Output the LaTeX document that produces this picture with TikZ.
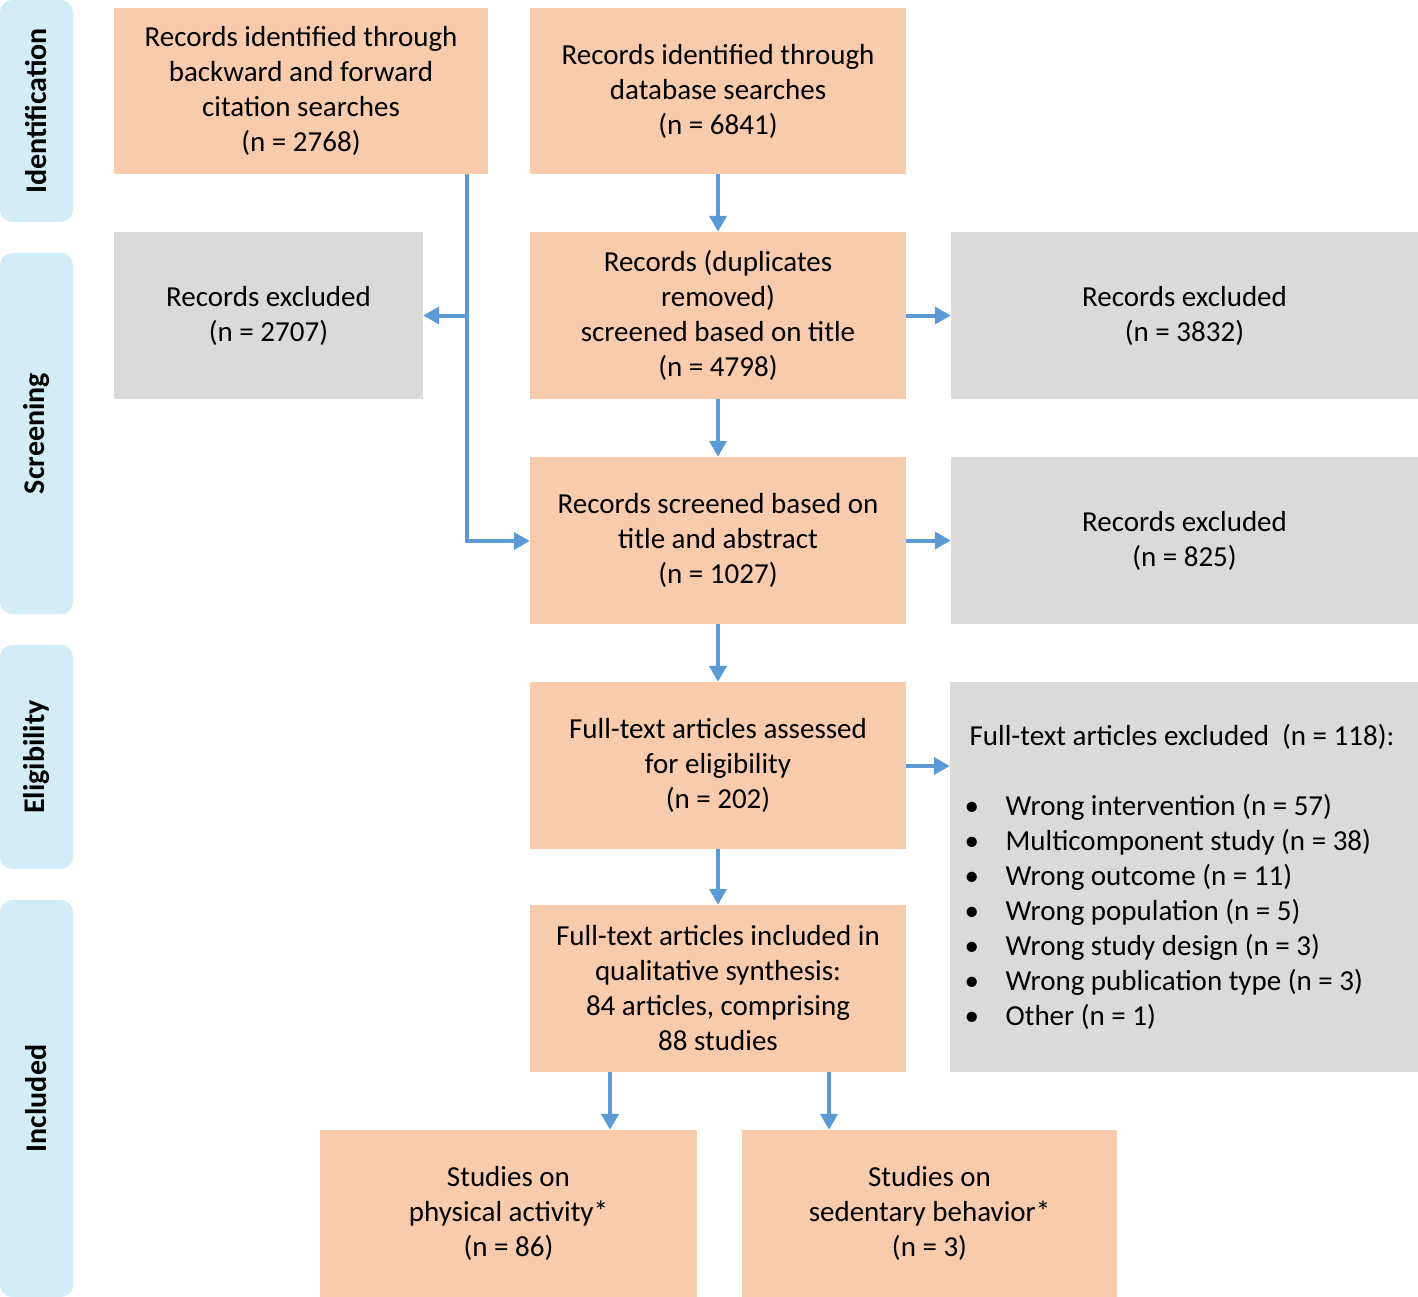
\documentclass[tikz,border=0pt]{standalone}
\usepackage{fontspec}
\setmainfont{Carlito}
\usetikzlibrary{arrows.meta}

\definecolor{boxorange}{RGB}{248,203,173}
\definecolor{boxgray}{RGB}{218,218,218}
\definecolor{phaseblue}{RGB}{210,237,246}
\definecolor{arrowblue}{RGB}{91,155,213}

\newcommand{\bulletitem}{\makebox[32pt][l]{\hspace*{-9pt}\textbullet}}

\begin{document}
\begin{tikzpicture}[x=1pt,y=-1pt,
  stage/.style={rectangle,fill=boxorange,inner sep=0pt,align=center,
    font=\fontsize{29}{35}\selectfont},
  excl/.style={rectangle,fill=boxgray,inner sep=0pt,align=center,
    font=\fontsize{29}{35}\selectfont},
  phase/.style={rectangle,rounded corners=12pt,fill=phaseblue,rotate=90,
    minimum height=73pt,inner sep=0pt,font=\fontsize{30}{36}\selectfont\bfseries},
  arr/.style={draw=arrowblue,line width=4pt,-{Triangle[length=16pt,width=17pt]}}]

\useasboundingbox (0,0) rectangle (1418,1297);

% phases on the left
\node[phase,minimum width=222pt] (ident) at (36.5,111) {Identification};
\node[phase,minimum width=361pt] (screen) at (36.5,433.5) {Screening};
\node[phase,minimum width=224pt] (elig) at (36.5,757) {Eligibility};
\node[phase,minimum width=397pt] (incl) at (36.5,1098.5) {Included};

% identification
\node[stage,minimum width=374pt,minimum height=166pt] (cite) at (301,91)
  {Records identified through\\backward and forward\\citation searches\\(n = 2768)};
\node[stage,minimum width=376pt,minimum height=166pt] (db) at (718,91)
  {Records identified through\\database searches\\(n = 6841)};

% screening
\node[excl,minimum width=309pt,minimum height=167pt] (exclA) at (268.5,315.5)
  {Records excluded\\(n = 2707)};
\node[stage,minimum width=376pt,minimum height=167pt] (dup) at (718,315.5)
  {Records (duplicates\\removed)\\screened based on title\\(n = 4798)};
\node[excl,minimum width=467pt,minimum height=167pt] (exclB) at (1184.5,315.5)
  {Records excluded\\(n = 3832)};
\node[stage,minimum width=376pt,minimum height=167pt] (abs) at (718,540.5)
  {Records screened based on\\title and abstract\\(n = 1027)};
\node[excl,minimum width=467pt,minimum height=167pt] (exclC) at (1184.5,540.5)
  {Records excluded\\(n = 825)};

% eligibility
\node[stage,minimum width=376pt,minimum height=167pt] (full) at (718,765.5)
  {Full-text articles assessed\\for eligibility\\(n = 202)};
\node[excl,minimum width=468pt,minimum height=390pt,align=left] (exclD) at (1184,877)
  {\hspace*{-4pt}Full-text articles excluded~~(n = 118):\\[35pt]
   \bulletitem Wrong intervention (n = 57)\\
   \bulletitem Multicomponent study (n = 38)\\
   \bulletitem Wrong outcome (n = 11)\\
   \bulletitem Wrong population (n = 5)\\
   \bulletitem Wrong study design (n = 3)\\
   \bulletitem Wrong publication type (n = 3)\\
   \bulletitem Other (n = 1)};

% included
\node[stage,minimum width=376pt,minimum height=167pt] (synth) at (718,988.5)
  {Full-text articles included in\\qualitative synthesis:\\84 articles, comprising\\88 studies};
\node[stage,minimum width=377pt,minimum height=167pt] (phys) at (508.5,1213.5)
  {Studies on\\physical activity*\\(n = 86)};
\node[stage,minimum width=375pt,minimum height=167pt] (sed) at (929.5,1213.5)
  {Studies on\\sedentary behavior*\\(n = 3)};

% connectors
\coordinate (turn) at (467,541);
\coordinate (toPhys) at (610,0);
\coordinate (toSed) at (829,0);
\coordinate (outD) at (0,766);

\draw[arr] (db) -- (dup);
\draw[arr] (dup) -- (abs);
\draw[arr] (abs) -- (full);
\draw[arr] (full) -- (synth);
\draw[arr] (dup) -- (exclB);
\draw[arr] (abs) -- (exclC);
\draw[arr] (full.east |- outD) -- (exclD.west |- outD);
\draw[arr] (cite.south -| turn) -- (turn) -- (abs.west |- turn);
\draw[arr] (turn |- dup.east) -- (exclA.east |- dup.east);
\draw[arr] (synth.south -| toPhys) -- (phys.north -| toPhys);
\draw[arr] (synth.south -| toSed) -- (sed.north -| toSed);
\end{tikzpicture}
\end{document}
